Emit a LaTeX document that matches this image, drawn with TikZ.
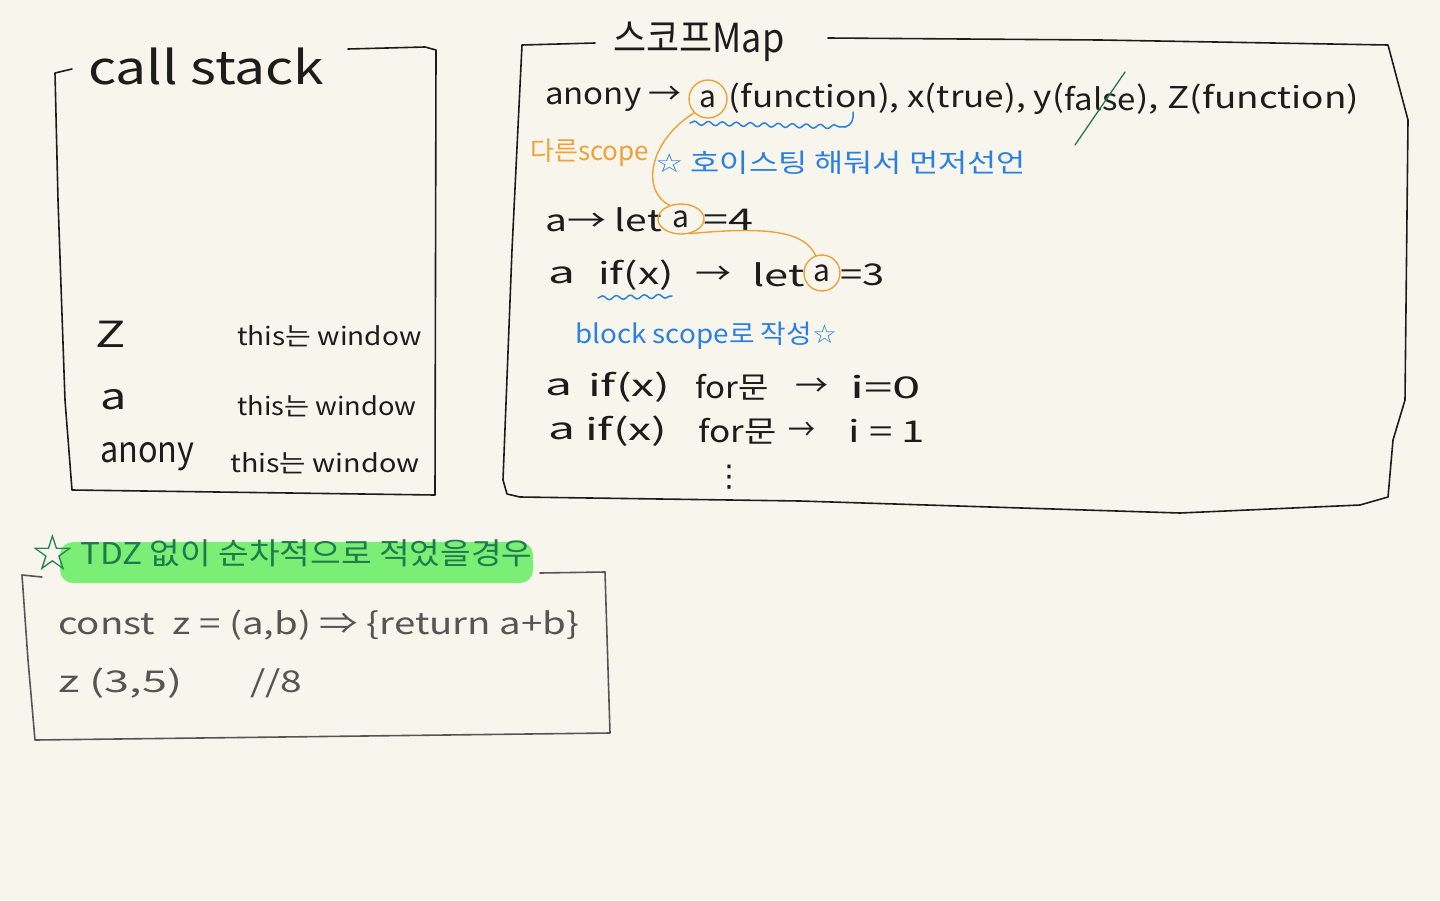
\documentclass[tikz,border=0pt]{standalone}
\usepackage{fontspec}
\setmainfont{Noto Sans CJK KR}
\newfontfamily\sym{DejaVu Sans}
\usetikzlibrary{decorations.pathmorphing,positioning,calc,shapes.geometric}
\newcommand\sx[2]{\scalebox{#1}[1]{#2}}
\definecolor{bg}{HTML}{F8F6EC}
\definecolor{ink}{HTML}{1C1C1C}
\definecolor{org}{HTML}{EDA13A}
\definecolor{blu}{HTML}{2B80E0}
\definecolor{grn}{HTML}{1E7B4E}
\definecolor{hl}{HTML}{7BEE76}
\definecolor{gry}{HTML}{555555}
\begin{document}
\begin{tikzpicture}[x=1pt,y=-1pt,line cap=round,line join=round,
  txt/.style={anchor=west,inner sep=0pt,text=ink,font=\fontsize{30}{36}\selectfont},
  small/.style={txt,font=\fontsize{25}{30}\selectfont},
  big/.style={txt,font=\fontsize{36}{40}\selectfont},
  note/.style={txt,font=\fontsize{26}{30}\selectfont},
  boxline/.style={draw=ink,line width=1.6pt},
  ring/.style={draw=org,line width=1.4pt,circle,inner sep=0pt,minimum size=38pt,text=ink,font=\fontsize{30}{36}\selectfont},
  oval/.style={draw=org,line width=1.4pt,ellipse,inner sep=0pt,minimum width=46pt,minimum height=30pt,text=ink,font=\fontsize{30}{36}\selectfont},
  link/.style={draw=org,line width=1.4pt},
  wavy/.style={draw=blu,line width=1.5pt,decorate,decoration={snake,segment length=14pt,amplitude=2pt}}]
\fill[bg] (0,0) rectangle (1440,900);
\useasboundingbox (0,0) rectangle (1440,900);

% ---------- call stack ----------
\draw[boxline] (72,69) -- (55,73) -- (58,200) -- (65,400) -- (72,490) -- (435,495) -- (436,50) -- (425,47) -- (348,49);
\node[txt,font=\fontsize{46}{50}\selectfont] (cs) at (88,66) {\sx{1.2}{call stack}};
\node[big] (sz) at (95,334) {\sx{1.4}{Z}};
\node[small] (tz) at (237,336) {\sx{1.12}{this는 window}};
\node[big] (sa) at (100,400) {\sx{1.3}{a}};
\node[small] (ta) at (237,406) {\sx{1.09}{this는 window}};
\node[big] (sn) at (100,457) {\sx{0.9}{anony}};
\node[small] (tn) at (230,463) {\sx{1.15}{this는 window}};

% ---------- scope map ----------
\draw[boxline] (595,43) -- (522,45) -- (512,250) -- (503,480) -- (507,494) -- (520,497) -- (800,501) -- (1180,513) -- (1360,505) -- (1388,497) -- (1393,440) -- (1405,400) -- (1408,120) -- (1388,45) -- (1100,40) -- (828,38);
\node[txt,font=\fontsize{40}{46}\selectfont] (sm) at (613,42) {\sx{0.9}{스코프Map}};

\node[txt] (l1a) at (545,99) {\sx{1.1}{anony →}};
\node[ring] (c1) at (708,99) {a};
\node[txt,right=1pt of c1] (l1b) {\sx{1.17}{(function), x(true), y(}};
\node[txt,right=0pt of l1b] (fal) {\sx{1.1}{false}};
\node[txt,right=0pt of fal] (l1c) {\sx{1.23}{), Z(function)}};
\draw[grn,line width=1.3pt] (1075,145) -- (1125,72);
\draw[wavy] (690,123) -- (845,127);
\draw[draw=blu,line width=1.5pt] (845,127) to[out=10,in=-80] (853,112);

\node[note,text=org] (ds) at (530,153) {다른scope};
\node[note,text=blu] (ho) at (655,163) {\sx{1.22}{{\sym ☆} 호이스팅 해둬서 먼저선언}};

\node[txt] (l2a) at (545,220) {\sx{1.3}{a→ let}};
\node[oval] (c2) at (681,219) {a};
\node[txt] (l2b) at (703,220) {\sx{1.5}{=4}};

\node[txt] (l3a) at (548,275) {\sx{1.6}{a}};
\node[txt] (l3b) at (598,275) {\sx{1.42}{if(x)}};
\node[txt] (l3c) at (695,275) {\sx{1.2}{→}};
\node[txt] (l3d) at (752,275) {\sx{1.45}{let}};
\node[ring,minimum size=36pt] (c3) at (822,273) {a};
\node[txt] (l3e) at (840,275) {\sx{1.33}{=3}};
\draw[wavy] (598,298) -- (672,296);

\draw[link] (c1.225) .. controls (650,140) and (640,190) .. (c2.130);
\draw[link] (c2.-60) .. controls (770,226) and (805,232) .. (c3.110);

\node[note,text=blu] (bs) at (575,336) {\sx{1.07}{block scope로 작성{\sym ☆}}};

\node[txt] (l4a) at (545,387) {\sx{1.6}{a}};
\node[txt] (l4b) at (588,387) {\sx{1.55}{if(x)}};
\node[txt] (l4c) at (695,387) {\sx{1.1}{for문}};
\node[txt] (l4d) at (795,387) {\sx{1.1}{→}};
\node[txt] (l4e) at (850,387) {\sx{1.7}{i=0}};

\node[txt] (l5a) at (548,431) {\sx{1.6}{a}};
\node[txt] (l5b) at (585,431) {\sx{1.55}{if(x)}};
\node[txt] (l5c) at (698,431) {\sx{1.17}{for문}};
\node[txt] (l5d) at (788,431) {\sx{0.9}{→}};
\node[txt] (l5e) at (848,431) {\sx{1.4}{i = 1}};
\node[txt,font=\fontsize{30}{36}\sym] (dots) at (714,477) {⋮};

% ---------- TDZ ----------
\fill[hl,rounded corners=13pt] (60,542) rectangle (533,583);
\node[txt,text=grn,font=\fontsize{50}{56}\sym] (star) at (30,553) {☆};
\node[txt,text=grn] (tdz) at (80,553) {\sx{1.11}{TDZ 없이 순차적으로 적었을경우}};
\draw[draw=gry,line width=1.6pt] (42,577) -- (22,575) -- (28,660) -- (35,740) -- (610,733) -- (605,572) -- (540,573);
\node[txt,text=gry] (cz) at (58,625) {\sx{1.28}{const \ z = (a,b) ⇒ \{return a+b\}}};
\node[txt,text=gry] (zz) at (58,683) {\sx{1.5}{z (3,5)}};
\node[txt,text=gry] (c8) at (250,683) {\sx{1.3}{//8}};
\end{tikzpicture}
\end{document}
